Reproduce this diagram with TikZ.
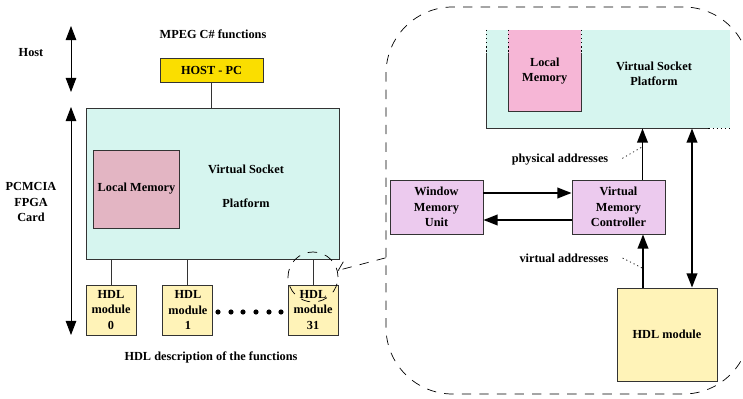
\documentclass[tikz,border=0pt]{standalone}
\usepackage{fontspec}
\setmainfont{Liberation Serif}
\usepackage{tikz}
\usetikzlibrary{arrows.meta,positioning,shapes}
\definecolor{hostyellow}{RGB}{250,222,0}
\definecolor{vspcyan}{RGB}{214,245,239}
\definecolor{memleft}{RGB}{227,181,195}
\definecolor{memright}{RGB}{246,182,214}
\definecolor{vmlilac}{RGB}{236,202,238}
\definecolor{modyellow}{RGB}{255,243,184}
\tikzstyle{hostbox}=[
	rectangle,
	draw=black!80,
	line width=0.8pt,
	fill=hostyellow,
	minimum width=3.09cm,
	minimum height=0.72cm]
\tikzstyle{vsp}=[
	rectangle,
	draw=black!80,
	line width=0.8pt,
	fill=vspcyan]
\tikzstyle{membox}=[
	rectangle,
	draw=black!80,
	line width=0.8pt,
	fill=memleft,
	minimum width=2.55cm,
	minimum height=2.34cm]
\tikzstyle{module}=[
	rectangle,
	draw=black!80,
	line width=0.8pt,
	fill=modyellow,
	align=center,
	inner sep=0,
	minimum width=1.5cm,
	minimum height=1.5cm]
\tikzstyle{vmbox}=[
	rectangle,
	draw=black!80,
	line width=0.8pt,
	fill=vmlilac,
	align=center,
	inner sep=0,
	minimum width=2.79cm,
	minimum height=1.62cm]
\tikzstyle{wire}=[
	line width=0.8pt,
	draw=black!80]
\tikzstyle{span}=[
	line width=0.7pt,
	<->,
	>={Triangle[length=12pt,width=9pt]}]
\tikzstyle{arr}=[
	line width=1.5pt,
	->,
	>={Triangle[length=12pt,width=9pt]}]
\tikzstyle{zoomdash}=[
	line width=0.6pt,
	dash pattern=on 8pt off 7pt]
\tikzstyle{pointer}=[
	line width=0.6pt,
	dash pattern=on 1pt off 2.5pt]

\begin{document}
\begin{tikzpicture}[x=0.03cm,y=-0.03cm,font=\fontsize{10.5}{13}\selectfont\bfseries]
	\useasboundingbox (0,0) rectangle (743,399);
	% left side: the card
	\node	(mpeg)	at (213,34)	{MPEG C\# functions};
	\node[hostbox]	(host)	at (211.5,70)	{HOST - PC};
	\node[vsp,minimum width=7.59cm,minimum height=4.53cm]	(vspL)	at (212.5,183.5)	{};
	\node[membox]	(memL)	at (136.5,189)	{Local Memory};
	\node[align=center]	(vspLtxt)	at (246,186)	{Virtual Socket\\[16pt]Platform};
	\draw[wire]	(host.south) -- (host.south |- vspL.north);
	\node[module]	(m0)	at (111,310)	{HDL\\module\\0};
	\node[module]	(m1)	[right=0.78cm of m0]	{HDL\\module\\1};
	\node[module]	(m31)	at (313,310)	{HDL\\module\\31};
	\foreach \m in {m0,m1,m31}
		\draw[wire]	(\m.north) -- (\m.north |- vspL.south);
	\foreach \x in {218,231,243,256,269,281}
		\fill	(\x,312) circle (2.2pt);
	\node	(desc)	at (211,357)	{HDL description of the functions};
	\node	(hostlbl)	at (31,53)	{Host};
	\node[align=center]	(cardlbl)	at (31,202)	{PCMCIA\\FPGA\\Card};
	\coordinate	(hostTop)	at (71,26);
	\coordinate	(hostBot)	at (71,92);
	\coordinate	(cardTop)	at (71,107);
	\coordinate	(cardBot)	at (71,335);
	\draw[span]	(hostTop) -- (hostBot);
	\draw[span]	(cardTop) -- (cardBot);
	% right side: zoom on one module
	\node[zoomdash,draw,rounded corners=2cm,minimum width=10.92cm,minimum height=11.61cm]	(zoomR)	at (568,200.5)	{};
	\node[fill=vspcyan,inner sep=0,minimum width=7.32cm,minimum height=2.94cm,anchor=north west]	(vspR)	at (486,30)	{};
	\node[fill=memright,inner sep=0,align=center,minimum width=2.19cm,minimum height=2.43cm,anchor=north west]	(memR)	at (508,30)	{Local\\Memory};
	\draw[wire]	([yshift=-0.69cm]vspR.north west) -- (vspR.south west) -- ([xshift=-0.66cm]vspR.south east);
	\draw[pointer]	(vspR.north west) -- ([yshift=-0.69cm]vspR.north west);
	\draw[pointer]	([xshift=-0.66cm]vspR.south east) -- (vspR.south east);
	\draw[wire]	([yshift=-0.69cm]memR.north west) -- (memR.south west) -- (memR.south east) -- ([yshift=-0.69cm]memR.north east);
	\draw[pointer]	(memR.north west) -- ([yshift=-0.69cm]memR.north west);
	\draw[pointer]	(memR.north east) -- ([yshift=-0.69cm]memR.north east);
	\node[align=center]	(vspRtxt)	at (654,74)	{Virtual Socket\\Platform};
	\node[vmbox]	(wmu)	at (436.5,207)	{Window\\Memory\\Unit};
	\node[vmbox]	(vmc)	at (618.5,207)	{Virtual\\Memory\\Controller};
	\node[module,minimum width=3cm,minimum height=2.79cm]	(hdl)	at (667,334.5)	{HDL module};
	\draw[arr]	([yshift=0.42cm]wmu.east) -- ([yshift=0.42cm]vmc.west);
	\draw[arr]	([yshift=-0.39cm]vmc.west) -- ([yshift=-0.39cm]wmu.east);
	\draw[arr]	([xshift=0.72cm]vmc.north) -- ([xshift=0.72cm]vmc.north |- vspR.south);
	\draw[arr]	([xshift=-0.72cm]hdl.north) -- ([xshift=-0.72cm]hdl.north |- vmc.south);
	\draw[arr,<->]	([xshift=0.75cm]hdl.north) -- ([xshift=0.75cm]hdl.north |- vspR.south);
	\node	(phys)	at (560,160)	{physical addresses};
	\node	(virt)	at (564,258)	{virtual addresses};
	\coordinate	(physpt)	at (642,147);
	\coordinate	(virtpt)	at (642,268);
	\draw[pointer]	([xshift=0.3cm,yshift=0.05cm]phys.east) -- (physpt);
	\draw[pointer]	([xshift=0.3cm]virt.east) -- (virtpt);
	% zoom marker
	\node[zoomdash,draw,circle,minimum size=1.5cm]	(zc)	at (313,277)	{};
	\draw[zoomdash,-{Straight Barb[right,length=6pt,width=12pt]}]	([yshift=-1.72cm]zoomR.west) -- (zc);
\end{tikzpicture}
\end{document}
